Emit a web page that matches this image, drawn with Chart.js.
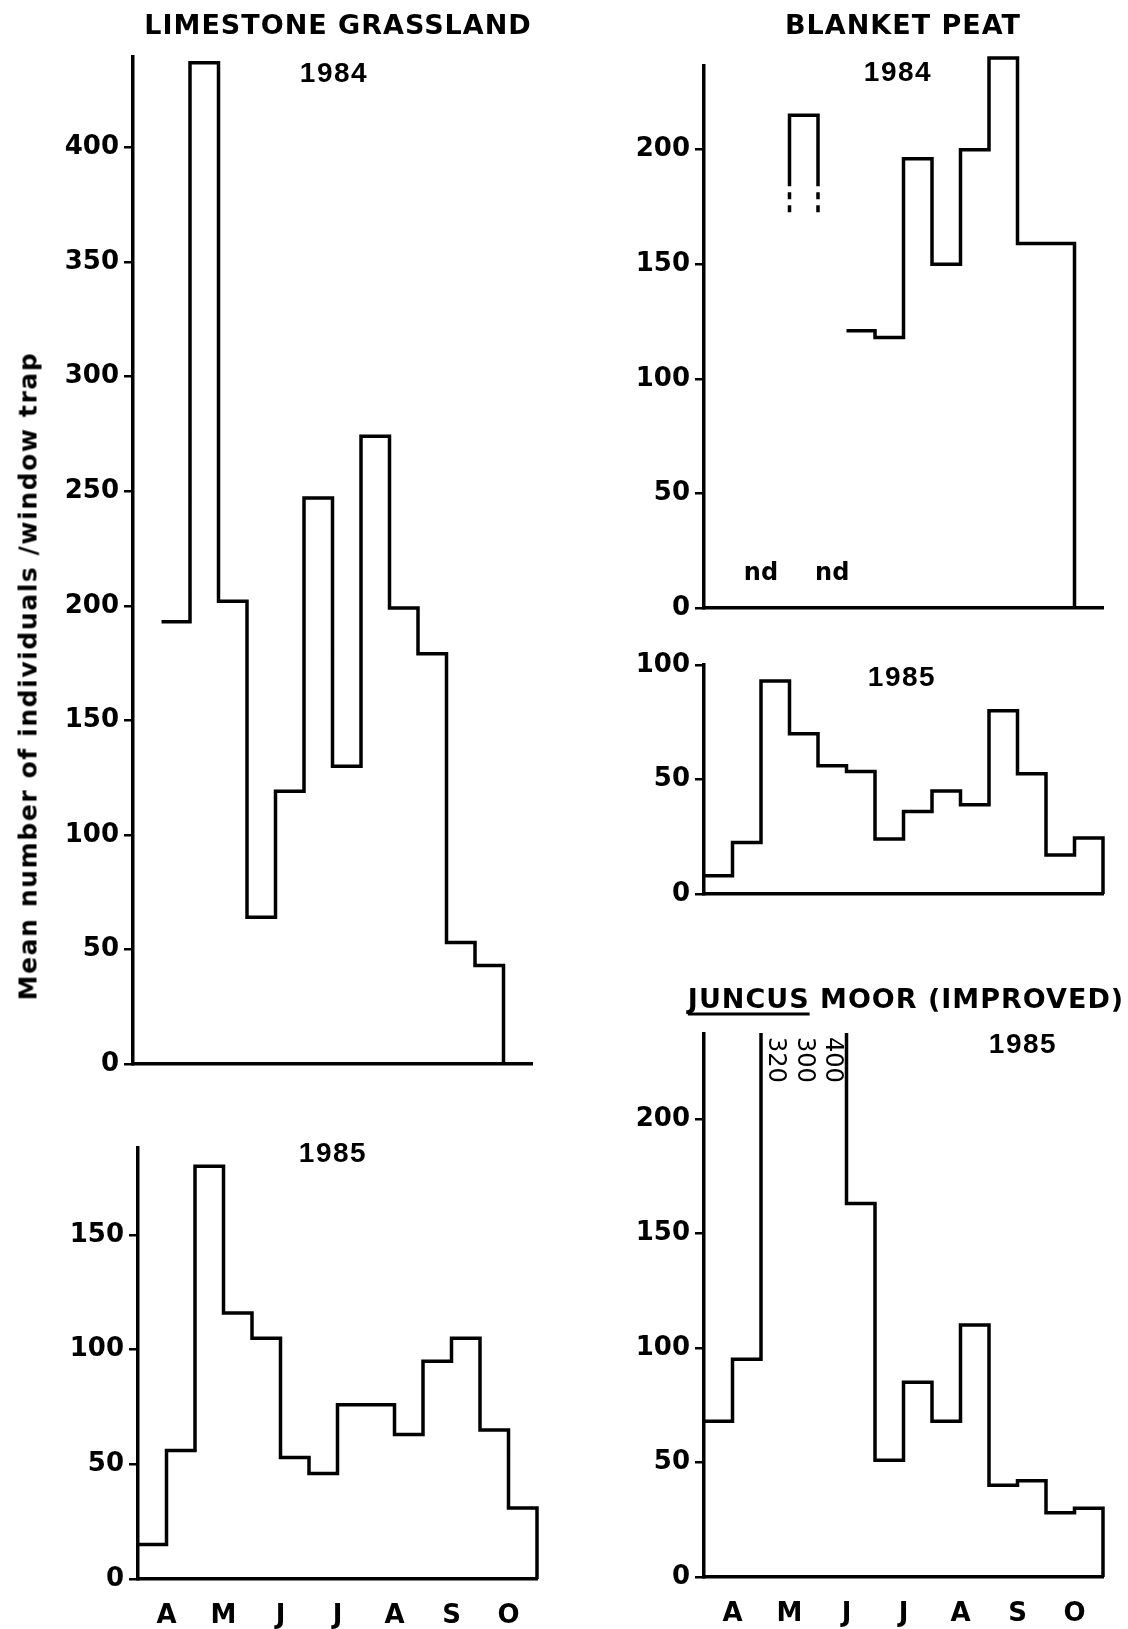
<!DOCTYPE html>
<html>
<head>
<meta charset="utf-8">
<title>Window trap catches</title>
<script src="https://cdn.jsdelivr.net/npm/chart.js@4.4.1/dist/chart.umd.min.js"></script>
<style>
  html, body { margin: 0; padding: 0; background: #fff; }
  #page { position: relative; width: 1128px; height: 1629px; overflow: hidden; background: #fff; }
  #page canvas { position: absolute; }
  .lbl { position: absolute; transform: translate(-50%, -50%); white-space: nowrap; color: #000; line-height: 1; }
  .title { font: bold 27px "DejaVu Sans"; letter-spacing: 1px; }
  .title u { text-decoration-thickness: 3px; text-underline-offset: 5px; }
  .year { font: bold 28px "Liberation Sans"; letter-spacing: 1.5px; }
  .ylab { font: bold 25px "DejaVu Sans"; letter-spacing: 1.6px; transform: translate(-50%, -50%) rotate(-90deg); }
</style>
</head>
<body>
<div id="page">
  <div class="lbl title" style="left:338px; top:24px;">LIMESTONE GRASSLAND</div>
  <div class="lbl title" style="left:903px; top:24px;">BLANKET PEAT</div>
  <div class="lbl title" style="left:906px; top:998px;"><u>JUNCUS</u> MOOR (IMPROVED)</div>
  <div class="lbl year" style="left:334px; top:73px;">1984</div>
  <div class="lbl year" style="left:898px; top:72px;">1984</div>
  <div class="lbl year" style="left:902px; top:677px;">1985</div>
  <div class="lbl year" style="left:333px; top:1153px;">1985</div>
  <div class="lbl year" style="left:1023px; top:1044px;">1985</div>
  <div class="lbl ylab" style="left:28px; top:676px;">Mean number of individuals /window trap</div>
</div>
<script>
// fortnightly bins, Apr-Oct (14 bins); month letters sit on every second bin edge
const months = ["A", "M", "J", "J", "A", "S", "O"];

// Limestone grassland
const limestone1984 = [null, 193, 437, 202, 64, 119, 247, 130, 274, 199, 179, 53, 43, null];
const limestone1985 = [15, 56, 180, 116, 105, 53, 46, 76, 76, 63, 95, 105, 65, 31];

// Blanket peat ("nd" = no data)
const blanketPeat1984 = [null, "nd", "nd", 215, "nd", 121, 118, 196, 150, 200, 240, 159, 159, null];
const blanketPeat1985 = [8, 22.5, 93, 70, 56, 53.5, 24, 36, 45, 39, 80, 52.5, 17, 24.5];
// the isolated 1984 sample: solid edges stop at 184, dashed down to 172
const peatEdgeSolid = 184;
const peatEdgeDashed = 172;

// Juncus moor (improved); 320, 300, 400 run off the top of the axis
const juncus1985 = [68, 95, 320, 300, 400, 163, 51, 85, 68, 110, 40, 42, 28, 30];

// y tick values
const lg84Ticks = [0, 50, 100, 150, 200, 250, 300, 350, 400];
const lg85Ticks = [0, 50, 100, 150];
const bp84Ticks = [0, 50, 100, 150, 200];
const bp85Ticks = [0, 50, 100];
const jm85Ticks = [0, 50, 100, 150, 200];

const BINS = 14;
const PX_PER_UNIT = 2.289;
const BIN_PX = 28.5;
const Y_W = 100, PAD_T = 24, PAD_R = 26;
const LINE_W = 3.5;

const panels = [
  { values: limestone1984, ticks: lg84Ticks, max: 439.5, left: 133, bottom: 1064, months: false },
  { values: limestone1985, ticks: lg85Ticks, max: 188, left: 138, bottom: 1579, months: true },
  { values: blanketPeat1984, ticks: bp84Ticks, max: 236.5, left: 704, bottom: 608, months: false,
    noClip: true, edges: [peatEdgeSolid, peatEdgeDashed] },
  { values: blanketPeat1985, ticks: bp85Ticks, max: 100, left: 704, bottom: 894, months: false },
  { values: juncus1985, ticks: jm85Ticks, max: 237, left: 704, bottom: 1577, months: true, offscale: true }
];

Chart.defaults.font.family = "DejaVu Sans";
Chart.defaults.color = "#000";

function runsOf(values) {
  const runs = [];
  let i = 0;
  while (i < values.length) {
    if (typeof values[i] !== "number") { i++; continue; }
    let j = i;
    while (j + 1 < values.length && typeof values[j + 1] === "number") j++;
    runs.push([i, j]);
    i = j + 1;
  }
  return runs;
}

// outline of the histogram, one run of bins at a time
function stepPoints(values, edgeFrom) {
  const runs = runsOf(values);
  const pts = [];
  runs.forEach(([a, b], r) => {
    const last = r === runs.length - 1;
    if (pts.length) pts.push({ x: a, y: null });
    if (!last && edgeFrom != null) pts.push({ x: a, y: edgeFrom });
    for (let k = a; k <= b; k++) pts.push({ x: k, y: values[k] });
    pts.push({ x: b + 1, y: values[b] });
    if (last) pts.push({ x: b + 1, y: 0 });
    else if (edgeFrom != null) pts.push({ x: b + 1, y: edgeFrom });
  });
  return pts;
}

const annotate = {
  id: "annotate",
  afterDatasetsDraw(chart, args, opts) {
    const { ctx, chartArea } = chart;
    const x = chart.scales.x, y = chart.scales.y;
    const vals = opts.values || [];
    ctx.save();
    ctx.fillStyle = "#000";
    // "nd" over each run of missing samples
    ctx.font = "bold 24px 'DejaVu Sans'";
    ctx.textAlign = "center";
    ctx.textBaseline = "alphabetic";
    let i = 0;
    while (i < vals.length) {
      if (vals[i] !== "nd") { i++; continue; }
      let j = i;
      while (vals[j + 1] === "nd") j++;
      ctx.fillText("nd", x.getPixelForValue((i + j + 1) / 2), y.getPixelForValue(0) - 28);
      i = j + 1;
    }
    // values that run off the axis, written down the bin
    if (opts.offscale) {
      ctx.font = "24px 'DejaVu Sans'";
      vals.forEach((v, k) => {
        if (typeof v === "number" && v > y.max) {
          ctx.save();
          ctx.translate(x.getPixelForValue(k + 0.5), chartArea.top + 3);
          ctx.rotate(Math.PI / 2);
          ctx.textAlign = "left";
          ctx.textBaseline = "middle";
          ctx.fillText(String(v), 0, 0);
          ctx.restore();
        }
      });
    }
    ctx.restore();
  }
};

const page = document.getElementById("page");

panels.forEach(p => {
  const areaW = BINS * BIN_PX;
  const areaH = p.max * PX_PER_UNIT;
  const top = p.bottom - areaH;
  const xH = p.months ? 60 : 30;
  const w = Math.round(Y_W + areaW + PAD_R);
  const h = PAD_T + areaH + xH;

  const cv = document.createElement("canvas");
  cv.width = w;
  cv.height = Math.ceil(h);
  cv.style.width = w + "px";
  cv.style.height = Math.ceil(h) + "px";
  cv.style.left = (p.left - Y_W) + "px";
  cv.style.top = (top - PAD_T - (Math.ceil(h) - h)) + "px";
  page.insertBefore(cv, page.firstChild);

  const main = {
    data: stepPoints(p.values, p.edges ? p.edges[0] : null),
    borderColor: "#000",
    borderWidth: LINE_W,
    stepped: "before",
    pointRadius: 0,
    fill: false,
    borderJoinStyle: "miter",
    clip: { left: LINE_W, right: LINE_W, bottom: LINE_W, top: p.noClip ? false : 1 }
  };
  const datasets = [main];

  if (p.edges) {
    runsOf(p.values).slice(0, -1).forEach(([a, b]) => {
      [a, b + 1].forEach(ex => {
        datasets.push({
          data: [{ x: ex, y: p.edges[0] }, { x: ex, y: p.edges[1] }],
          borderColor: "#000",
          borderWidth: LINE_W,
          borderDash: [7, 6],
          borderDashOffset: 7,
          pointRadius: 0,
          fill: false,
          clip: false
        });
      });
    });
  }

  new Chart(cv, {
    type: "line",
    data: { datasets: datasets },
    options: {
      responsive: false,
      animation: false,
      devicePixelRatio: 1,
      layout: { autoPadding: false, padding: { top: PAD_T, right: PAD_R, left: 0, bottom: 0 } },
      plugins: {
        legend: { display: false },
        tooltip: { enabled: false },
        annotate: { values: p.values, offscale: !!p.offscale }
      },
      scales: {
        x: {
          type: "linear",
          min: 0,
          max: BINS,
          afterBuildTicks: s => { s.ticks = months.map((m, i) => ({ value: 2 * i + 1 })); },
          afterFit: s => { s.height = xH; },
          ticks: {
            display: p.months,
            autoSkip: false,
            maxRotation: 0,
            padding: 22,
            font: { family: "DejaVu Sans", weight: "bold", size: 26 },
            callback: (v, i) => months[i]
          },
          grid: { display: false, drawTicks: false },
          border: { display: true, color: "#000", width: LINE_W }
        },
        y: {
          type: "linear",
          min: 0,
          max: p.max,
          afterBuildTicks: s => { s.ticks = p.ticks.map(v => ({ value: v })); },
          afterFit: s => { s.width = Y_W; },
          ticks: {
            padding: 5,
            font: { family: "DejaVu Sans", weight: "bold", size: 26 }
          },
          grid: { display: true, drawOnChartArea: false, drawTicks: true, tickLength: 9, color: "#000", lineWidth: 2.5 },
          border: { display: true, color: "#000", width: LINE_W }
        }
      }
    },
    plugins: [annotate]
  });
});
</script>
</body>
</html>
